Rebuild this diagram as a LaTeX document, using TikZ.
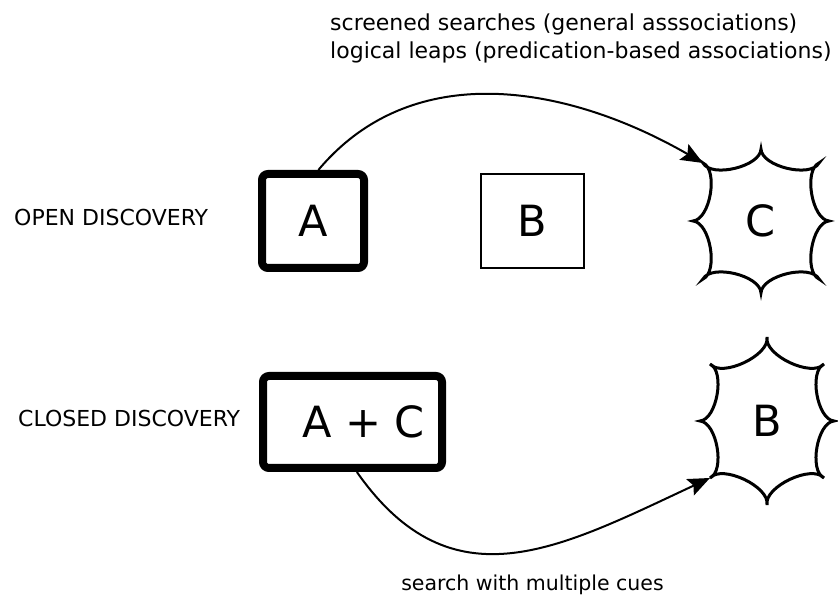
\documentclass[tikz,border=0pt]{standalone}
\usepackage{fontspec}
\setmainfont{DejaVu Sans}
\usetikzlibrary{arrows.meta}

\tikzset{
  thickbox/.style={draw, line width=8pt, rounded corners=6pt, minimum width=102pt, minimum height=94pt, font=\fontsize{43}{43}\selectfont},
  thinbox/.style={draw, line width=2.6pt, minimum width=103pt, minimum height=94pt, font=\fontsize{43}{43}\selectfont},
  letter/.style={font=\fontsize{43}{43}\selectfont},
  burstline/.style={line width=3pt, bend right=75, looseness=0.75},
  leap/.style={line width=2pt, -{Stealth[length=22pt,width=18pt,inset=4pt]}},
  caption/.style={font=\fontsize{22}{28}\selectfont, inner sep=0pt},
}

% starburst round a node: name, x radius, y radius, diagonal
\newcommand{\burst}[4]{%
  \path (#1.center) ++(0,#3) coordinate (#1-1)
        (#1.center) ++(#4,#4) coordinate (#1-2)
        (#1.center) ++(#2,0) coordinate (#1-3)
        (#1.center) ++(#4,-#4) coordinate (#1-4)
        (#1.center) ++(0,-#3) coordinate (#1-5)
        (#1.center) ++(-#4,-#4) coordinate (#1-6)
        (#1.center) ++(-#2,0) coordinate (#1-7)
        (#1.center) ++(-#4,#4) coordinate (#1-8);
  \draw[burstline] (#1-1) to (#1-2) to (#1-3) to (#1-4) to (#1-5) to (#1-6) to (#1-7) to (#1-8) to (#1-1) -- cycle;
}

\begin{document}
\begin{tikzpicture}[x=1pt,y=1pt]
\useasboundingbox (0,0) rectangle (838,601);
% open discovery
\node[caption, anchor=west] (openlabel) at (14,383) {OPEN DISCOVERY};
\node[thickbox] (opena) at (313,380) {A};
\node[thinbox] (openb) at (532.5,380) {B};
\node[letter] (openc) at (761,380) {C};
\burst{openc}{68}{72}{58}
\draw[leap] (opena.84) to[out=50,in=150] (openc-8);
\node[caption, anchor=west, align=left] (leaps) at (330,563) {screened searches (general asssociations)\\logical leaps (predication-based associations)};
% closed discovery
\node[caption, anchor=west] (closedlabel) at (18,183) {CLOSED DISCOVERY};
\node[thickbox, minimum width=179pt, minimum height=92pt] (closedac) at (352.5,179) {\hspace*{22pt}A + C};
\node[letter] (closedb) at (767,180) {B};
\burst{closedb}{67}{84}{57}
\draw[leap] (closedac.-85) to[out=-55,in=205,looseness=1.2] (closedb-6);
\node[caption, font=\fontsize{20.5}{28}\selectfont] (cues) at (532.5,16) {search with multiple cues};
\end{tikzpicture}
\end{document}
